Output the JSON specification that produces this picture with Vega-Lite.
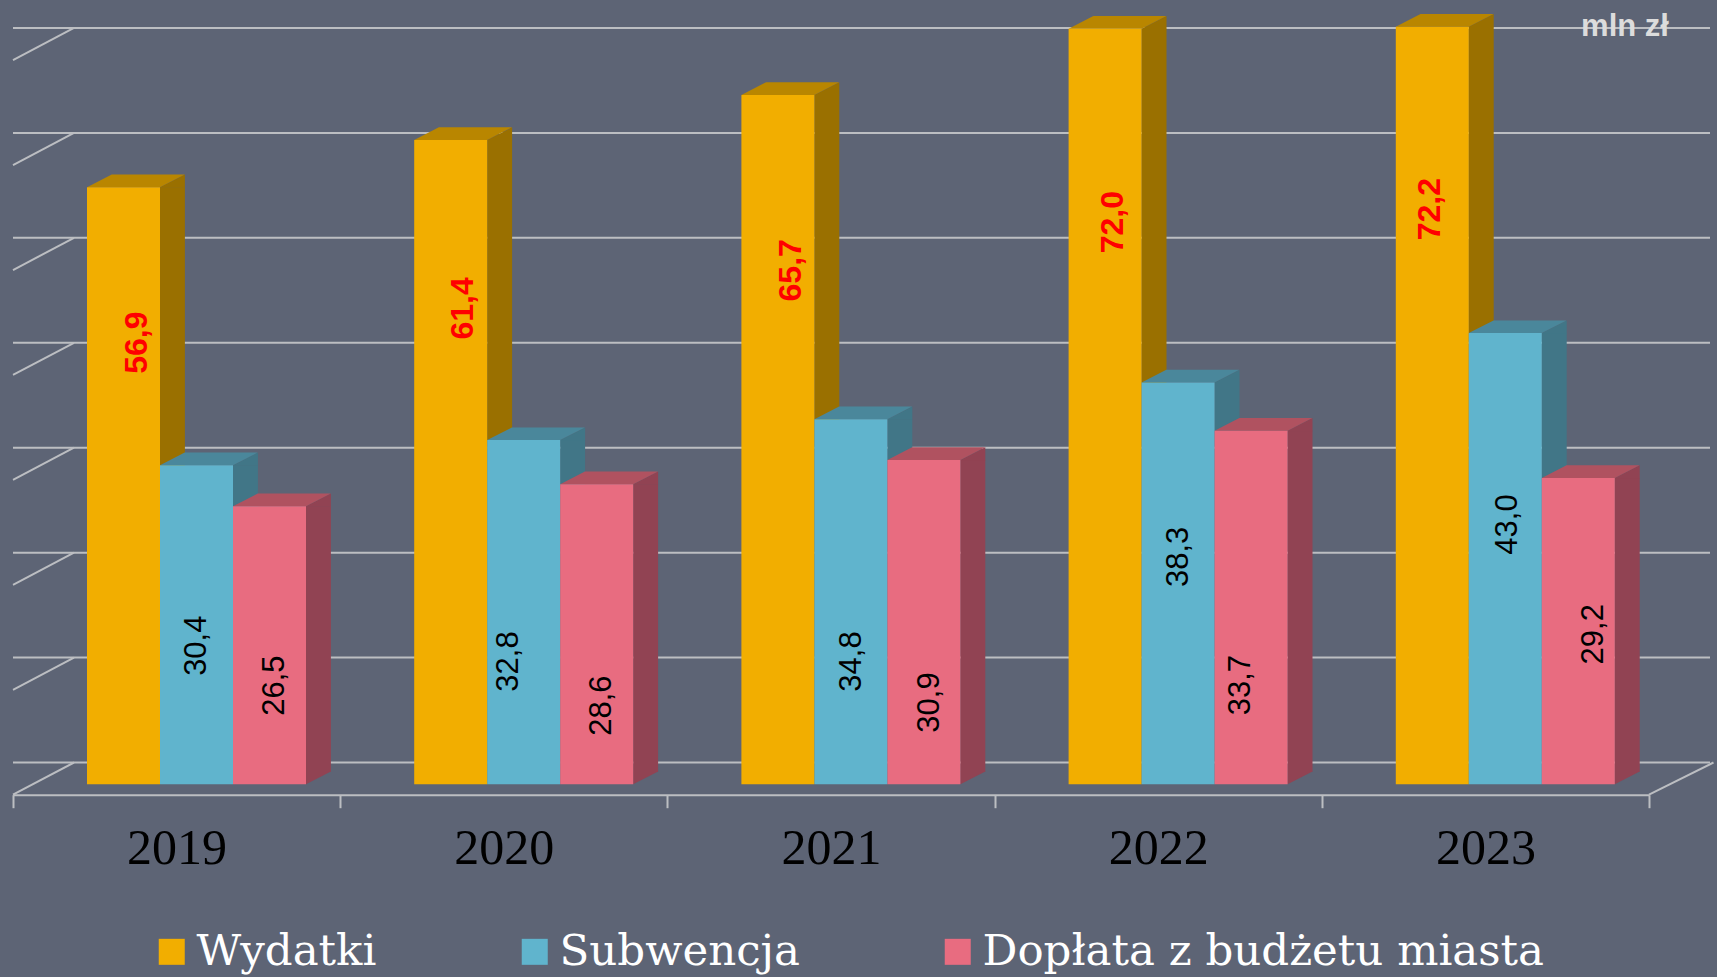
{
"$schema":"https://vega.github.io/schema/vega-lite/v6.json",
"width":1636,"height":787,
"autosize":{"type":"none"},
"padding":{"left":13,"top":7.7,"right":68,"bottom":182.3},
"background":"#5d6475",
"datasets":{
"bars":[
{"year":"2019","series":"Wydatki","value":56.9,"label":"56,9"},
{"year":"2019","series":"Subwencja","value":30.4,"label":"30,4"},
{"year":"2019","series":"Dopłata z budżetu miasta","value":26.5,"label":"26,5"},
{"year":"2020","series":"Wydatki","value":61.4,"label":"61,4"},
{"year":"2020","series":"Subwencja","value":32.8,"label":"32,8"},
{"year":"2020","series":"Dopłata z budżetu miasta","value":28.6,"label":"28,6"},
{"year":"2021","series":"Wydatki","value":65.7,"label":"65,7"},
{"year":"2021","series":"Subwencja","value":34.8,"label":"34,8"},
{"year":"2021","series":"Dopłata z budżetu miasta","value":30.9,"label":"30,9"},
{"year":"2022","series":"Wydatki","value":72.0,"label":"72,0"},
{"year":"2022","series":"Subwencja","value":38.3,"label":"38,3"},
{"year":"2022","series":"Dopłata z budżetu miasta","value":33.7,"label":"33,7"},
{"year":"2023","series":"Wydatki","value":72.2,"label":"72,2"},
{"year":"2023","series":"Subwencja","value":43.0,"label":"43,0"},
{"year":"2023","series":"Dopłata z budżetu miasta","value":29.2,"label":"29,2"}
],
"grid":[{"tick":0},{"tick":10},{"tick":20},{"tick":30},{"tick":40},{"tick":50},{"tick":60},{"tick":70}]
},
"config":{
"view":{"stroke":null},
"style":{
"redLabel":{"font":"Liberation Sans","fontWeight":"bold","fontSize":32,"angle":270,"align":"center","baseline":"middle"},
"blackLabel":{"font":"Liberation Sans","fontSize":31,"angle":270,"align":"center","baseline":"middle"}
}
},
"resolve":{"scale":{"fill":"independent","xOffset":"independent"}},
"layer":[
{"data":{"name":"grid"},"mark":{"type":"rule","stroke":"#bcbec2","strokeWidth":2,"xOffset":61,"x2Offset":64,"yOffset":-32.2},
 "encoding":{"y":{"field":"tick","type":"quantitative","axis":null,"scale":{"domain":[0,75],"nice":false,"zero":true}}}},
{"data":{"name":"grid"},"mark":{"type":"point","shape":"M0 0L61 -32.2","size":4,"filled":false,"stroke":"#bcbec2","strokeWidth":2,"opacity":1},
 "encoding":{"x":{"datum":"2019","type":"nominal","bandPosition":0,"scale":{"type":"band","paddingInner":0,"paddingOuter":0,"domain":["2019","2020","2021","2022","2023"]},
   "axis":{"title":null,"labelAngle":0,"labelFont":"Liberation Serif","labelFontSize":50,"labelColor":"#000000","labelPadding":16,"domainColor":"#bcbec2","domainWidth":2,"tickColor":"#bcbec2","tickWidth":2,"tickSize":13,"tickBand":"extent","grid":false}},
  "y":{"field":"tick","type":"quantitative","axis":null}}},
{"data":{"values":[{"tick":0}]},"mark":{"type":"point","shape":"M0 0L64.5 -32.2","size":4,"filled":false,"stroke":"#bcbec2","strokeWidth":2,"opacity":1},
 "encoding":{"x":{"datum":"2023","type":"nominal","bandPosition":1},"y":{"field":"tick","type":"quantitative","axis":null}}},
{"data":{"values":[{"unit":"mln zł"}]},"mark":{"type":"text","font":"Liberation Sans","fontWeight":"bold","fontSize":31,"fill":"#dcdcdc","align":"center","baseline":"alphabetic","xOffset":-24},
 "encoding":{"x":{"datum":"2023","type":"nominal","bandPosition":1},"y":{"datum":72.3,"axis":null},"text":{"field":"unit"}}},
{"data":{"name":"bars"},"mark":{"type":"bar","width":24.9,"yOffset":-10.4,"y2Offset":-23.1},
 "encoding":{"x":{"field":"year","type":"nominal"},
  "xOffset":{"field":"series","type":"nominal","scale":{"type":"band","domain":["Wydatki","Subwencja","Dopłata z budżetu miasta"],"paddingInner":0,"paddingOuter":0,"range":[122.95,341.95]}},
  "y":{"field":"value","type":"quantitative","axis":null,"stack":null},"y2":{"datum":0},
  "fill":{"field":"series","type":"nominal","legend":null,"scale":{"domain":["Wydatki","Subwencja","Dopłata z budżetu miasta"],"range":["#9a7000","#417687","#914353"]}}}},
{"data":{"name":"bars"},"mark":{"type":"point","shape":"M36.5 0L61.4 -12.7L61.4 0.5L36.5 0.5Z","size":4,"filled":true,"strokeWidth":0,"opacity":1,"yOffset":-10.4},
 "encoding":{"x":{"field":"year","type":"nominal"},
  "xOffset":{"field":"series","type":"nominal","scale":{"type":"band","domain":["Wydatki","Subwencja","Dopłata z budżetu miasta"],"paddingInner":0,"paddingOuter":0,"range":[74,293]}},
  "y":{"field":"value","type":"quantitative","axis":null},
  "fill":{"field":"series","type":"nominal","legend":null,"scale":{"domain":["Wydatki","Subwencja","Dopłata z budżetu miasta"],"range":["#9a7000","#417687","#914353"]}}}},
{"data":{"name":"bars"},"mark":{"type":"point","shape":"M36.5 0L61.4 -12.7L61.4 -13.2L36.5 -13.2Z","size":4,"filled":true,"strokeWidth":0,"opacity":1,"yOffset":-10.4},
 "encoding":{"x":{"field":"year","type":"nominal"},
  "xOffset":{"field":"series","type":"nominal","scale":{"type":"band","domain":["Wydatki","Subwencja","Dopłata z budżetu miasta"],"paddingInner":0,"paddingOuter":0,"range":[74,293]}},
  "y":{"datum":0,"axis":null},
  "fill":{"field":"series","type":"nominal","legend":null,"scale":{"domain":["Wydatki","Subwencja","Dopłata z budżetu miasta"],"range":["#9a7000","#417687","#914353"]}}}},
{"data":{"name":"bars"},"mark":{"type":"point","shape":"M-36.5 0L36.5 0L61.2 -12.7L-11.8 -12.7Z","size":4,"filled":true,"strokeWidth":0,"opacity":1,"yOffset":-10.4},
 "encoding":{"x":{"field":"year","type":"nominal"},
  "xOffset":{"field":"series","type":"nominal","scale":{"type":"band","domain":["Wydatki","Subwencja","Dopłata z budżetu miasta"],"paddingInner":0,"paddingOuter":0,"range":[74,293]}},
  "y":{"field":"value","type":"quantitative","axis":null},
  "fill":{"field":"series","type":"nominal","legend":null,"scale":{"domain":["Wydatki","Subwencja","Dopłata z budżetu miasta"],"range":["#b98600","#4a879b","#b05260"]}}}},
{"data":{"name":"bars"},"mark":{"type":"bar","yOffset":-10.4,"y2Offset":-10.4},
 "encoding":{"x":{"field":"year","type":"nominal"},
  "xOffset":{"field":"series","type":"nominal","scale":{"type":"band","domain":["Wydatki","Subwencja","Dopłata z budżetu miasta"],"paddingInner":0,"paddingOuter":0,"range":[74,293]}},
  "y":{"field":"value","type":"quantitative","axis":null,"stack":null},"y2":{"datum":0},
  "fill":{"field":"series","type":"nominal","scale":{"domain":["Wydatki","Subwencja","Dopłata z budżetu miasta"],"range":["#f2ae00","#60b4cd","#e86c80"]},
   "legend":{"title":null,"orient":"none","legendX":137,"legendY":922,"direction":"horizontal","symbolType":"square","symbolSize":676,"symbolStrokeWidth":0,"symbolOpacity":1,"labelFont":"DejaVu Serif","labelFontSize":43.5,"labelColor":"#ffffff","labelOffset":3,"labelLimit":800,"columnPadding":136,"padding":0}}}},
{"data":{"name":"bars"},
 "encoding":{"x":{"field":"year","type":"nominal"},
  "xOffset":{"field":"series","type":"nominal","scale":{"type":"band","domain":["Wydatki","Subwencja","Dopłata z budżetu miasta"],"paddingInner":0,"paddingOuter":0,"range":[74,293]}},
  "y":{"field":"value","type":"quantitative","axis":null},"text":{"field":"label"}},
 "layer":[
 {"transform":[{"filter":"datum.label==='56,9'"}],"mark":{"type":"text","style":"redLabel","fill":"#ff0000","dy":13,"yOffset":145}},
 {"transform":[{"filter":"datum.label==='61,4'"}],"mark":{"type":"text","style":"redLabel","fill":"#ff0000","dy":12,"yOffset":158}},
 {"transform":[{"filter":"datum.label==='65,7'"}],"mark":{"type":"text","style":"redLabel","fill":"#ff0000","dy":13,"yOffset":165}},
 {"transform":[{"filter":"datum.label==='72,0'"}],"mark":{"type":"text","style":"redLabel","fill":"#ff0000","dy":8,"yOffset":183}},
 {"transform":[{"filter":"datum.label==='72,2'"}],"mark":{"type":"text","style":"redLabel","fill":"#ff0000","dy":-2,"yOffset":172}},
 {"transform":[{"filter":"datum.label==='30,4'"}],"mark":{"type":"text","style":"blackLabel","fill":"#000000","dy":0,"yOffset":170}},
 {"transform":[{"filter":"datum.label==='32,8'"}],"mark":{"type":"text","style":"blackLabel","fill":"#000000","dy":-15,"yOffset":211}},
 {"transform":[{"filter":"datum.label==='34,8'"}],"mark":{"type":"text","style":"blackLabel","fill":"#000000","dy":1,"yOffset":232}},
 {"transform":[{"filter":"datum.label==='38,3'"}],"mark":{"type":"text","style":"blackLabel","fill":"#000000","dy":1,"yOffset":164}},
 {"transform":[{"filter":"datum.label==='43,0'"}],"mark":{"type":"text","style":"blackLabel","fill":"#000000","dy":3,"yOffset":181}},
 {"transform":[{"filter":"datum.label==='26,5'"}],"mark":{"type":"text","style":"blackLabel","fill":"#000000","dy":5,"yOffset":169}},
 {"transform":[{"filter":"datum.label==='28,6'"}],"mark":{"type":"text","style":"blackLabel","fill":"#000000","dy":5,"yOffset":211}},
 {"transform":[{"filter":"datum.label==='30,9'"}],"mark":{"type":"text","style":"blackLabel","fill":"#000000","dy":6,"yOffset":232}},
 {"transform":[{"filter":"datum.label==='33,7'"}],"mark":{"type":"text","style":"blackLabel","fill":"#000000","dy":-10,"yOffset":244}},
 {"transform":[{"filter":"datum.label==='29,2'"}],"mark":{"type":"text","style":"blackLabel","fill":"#000000","dy":16,"yOffset":146}}
 ]}
]
}
